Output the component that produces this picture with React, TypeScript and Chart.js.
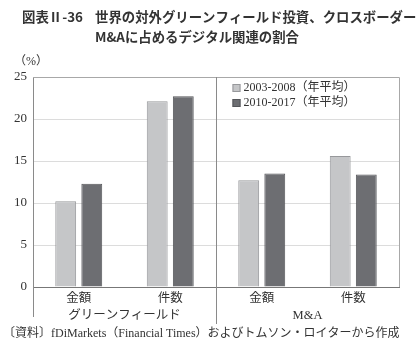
import React, { useEffect, useRef } from "react";
import { Chart, registerables } from "chart.js";

Chart.register(...registerables);

const categories = ["金額", "件数", "金額", "件数"];
const groups = ["グリーンフィールド", "M&A"];
const seriesLabels = ["2003-2008（年平均）", "2010-2017（年平均）"];
const series2003 = [10.2, 22.1, 12.7, 15.6];
const series2010 = [12.3, 22.7, 13.5, 13.4];
const yTicks = [0, 5, 10, 15, 20, 25];

const titleLine1a = "図表Ⅱ-36";
const titleLine1b = "世界の対外グリーンフィールド投資、クロスボーダー";
const titleLine2 = "M&Aに占めるデジタル関連の割合";
const unitLabel = "（%）";
const sourceText = "〔資料〕fDiMarkets（Financial Times）およびトムソン・ロイターから作成";

const SERIF = "'Liberation Serif', 'DejaVu Serif', 'Noto Sans CJK JP', serif";
const SANS = "'Noto Sans CJK JP', 'Noto Sans', sans-serif";
const lightFill = "#c5c6c8";
const lightBorder = "#97989b";
const darkFill = "#6d6e72";
const darkBorder = "#55565a";

const decorPlugin = {
  id: "decor",
  afterDraw(chart: any) {
    const { ctx, chartArea } = chart;
    const { left, right, top, bottom } = chartArea;
    const xs = chart.scales.x;
    ctx.save();
    // frame top/right
    ctx.strokeStyle = "#a8a8a8";
    ctx.lineWidth = 1;
    ctx.beginPath();
    ctx.moveTo(left, top + 0.5);
    ctx.lineTo(right + 0.5, top + 0.5);
    ctx.lineTo(right + 0.5, bottom);
    ctx.stroke();
    // divider and left extension
    const mid = Math.round((xs.getPixelForValue(1) + xs.getPixelForValue(2)) / 2) + 0.5;
    ctx.strokeStyle = "#8a8a8a";
    ctx.beginPath();
    ctx.moveTo(mid, top);
    ctx.lineTo(mid, bottom + 37);
    ctx.moveTo(Math.round(left) + 0.5, bottom);
    ctx.lineTo(Math.round(left) + 0.5, bottom + 30);
    ctx.stroke();
    // group labels
    ctx.fillStyle = "#333";
    ctx.font = `12.5px ${SERIF}`;
    ctx.textAlign = "center";
    ctx.textBaseline = "middle";
    const g1 = (xs.getPixelForValue(0) + xs.getPixelForValue(1)) / 2;
    const g2 = (xs.getPixelForValue(2) + xs.getPixelForValue(3)) / 2;
    ctx.fillText(groups[0], g1, bottom + 29);
    ctx.fillText(groups[1], g2, bottom + 29);
    // unit
    ctx.textAlign = "left";
    ctx.font = `12px ${SERIF}`;
    ctx.fillText(unitLabel, 14, top - 15);
    // legend
    const lx = mid + 16;
    const ly = top + 11;
    const fills = [lightFill, darkFill];
    const borders = [lightBorder, darkBorder];
    for (let i = 0; i < 2; i++) {
      const y = ly + i * 15;
      ctx.fillStyle = fills[i];
      ctx.fillRect(lx, y - 4, 8, 8);
      ctx.strokeStyle = borders[i];
      ctx.strokeRect(lx + 0.5, y - 3.5, 7, 7);
      ctx.fillStyle = "#333";
      ctx.font = `12px ${SERIF}`;
      ctx.fillText(seriesLabels[i], lx + 11, y);
    }
    // title
    ctx.fillStyle = "#333";
    ctx.font = `bold 13.4px ${SANS}`;
    ctx.textBaseline = "middle";
    ctx.fillText(titleLine1a, 22, 17);
    ctx.fillText(titleLine1b, 95, 17);
    ctx.fillText(titleLine2, 95, 37);
    // source
    ctx.font = `12px ${SERIF}`;
    ctx.fillText(sourceText, 3, 334);
    ctx.restore();
  },
};

export default function App() {
  const ref = useRef<HTMLCanvasElement | null>(null);
  useEffect(() => {
    if (!ref.current) return;
    const chart = new Chart(ref.current, {
      type: "bar",
      data: {
        labels: categories,
        datasets: [
          {
            label: seriesLabels[0],
            data: series2003,
            backgroundColor: lightFill,
            borderColor: lightBorder,
            borderWidth: 1,
            categoryPercentage: 0.57,
            barPercentage: 0.8,
          },
          {
            label: seriesLabels[1],
            data: series2010,
            backgroundColor: darkFill,
            borderColor: darkBorder,
            borderWidth: 1,
            categoryPercentage: 0.57,
            barPercentage: 0.8,
          },
        ],
      },
      options: {
        animation: false,
        responsive: false,
        layout: { padding: { left: 0, right: 17, top: 77, bottom: 0 } },
        plugins: { legend: { display: false }, tooltip: { enabled: false }, title: { display: false } },
        scales: {
          x: {
            grid: { display: false },
            border: { display: true, color: "#777", width: 1 },
            ticks: {
              color: "#333",
              font: { family: SERIF, size: 12.5 },
              padding: -4,
            },
            afterFit(scale: any) {
              scale.height = 63;
            },
          },
          y: {
            min: 0,
            max: 25,
            afterBuildTicks(scale: any) {
              scale.ticks = yTicks.map((v) => ({ value: v }));
            },
            grid: { color: "#dcdcdc", drawTicks: false },
            border: { display: true, color: "#8a8a8a", width: 1 },
            ticks: {
              color: "#333",
              font: { family: SERIF, size: 13 },
              padding: 6,
            },
            afterFit(scale: any) {
              scale.width = 33;
            },
          },
        },
      },
      plugins: [decorPlugin],
    });
    return () => chart.destroy();
  }, []);
  return (
    <div style={{ position: "fixed", left: 0, top: 0, width: 416, height: 350, background: "#fff" }}>
      <canvas ref={ref} width={416} height={350} style={{ width: 416, height: 350 }} />
    </div>
  );
}
